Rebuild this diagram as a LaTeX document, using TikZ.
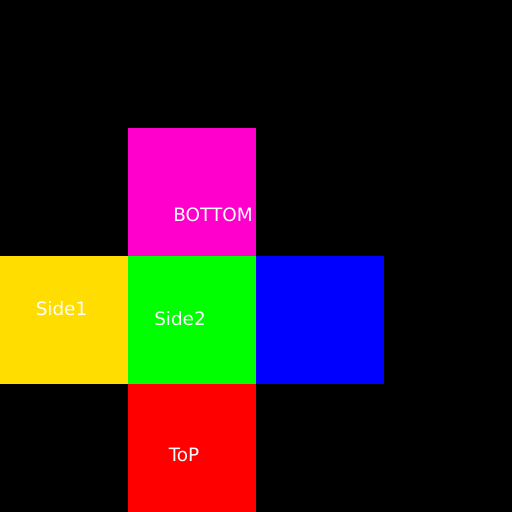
\documentclass[tikz,border=0pt]{standalone}
\usepackage{fontspec}
\setmainfont{DejaVu Sans}
\definecolor{cmag}{HTML}{FF00CC}
\definecolor{cyel}{HTML}{FFDD00}
\definecolor{cgrn}{HTML}{00FF00}
\definecolor{cblu}{HTML}{0000FF}
\definecolor{cred}{HTML}{FF0000}
\begin{document}
\begin{tikzpicture}[x=1pt,y=-1pt,
  face/.style={minimum width=128pt,minimum height=128pt,inner sep=0pt,outer sep=0pt,anchor=north west},
  lbl/.style={text=white,font=\fontsize{18.4pt}{21pt}\selectfont,inner sep=0pt,anchor=base}]
\fill[black] (0,0) rectangle (512,512);
\useasboundingbox (0,0) rectangle (512,512);
\node[face,fill=cmag] (bottom) at (128,128) {};
\node[face,fill=cyel] (side1) at (0,256) {};
\node[face,fill=cgrn] (side2) at (128,256) {};
\node[face,fill=cblu] (right) at (256,256) {};
\node[face,fill=cred] (top) at (128,384) {};
\node[lbl] (tbottom) at (213,221.5) {BOTTOM};
\node[lbl] (tside1) at (61.5,315.5) {Side1};
\node[lbl] (tside2) at (180,325.5) {Side2};
\node[lbl] (ttop) at (184,461) {ToP};
\end{tikzpicture}
\end{document}
